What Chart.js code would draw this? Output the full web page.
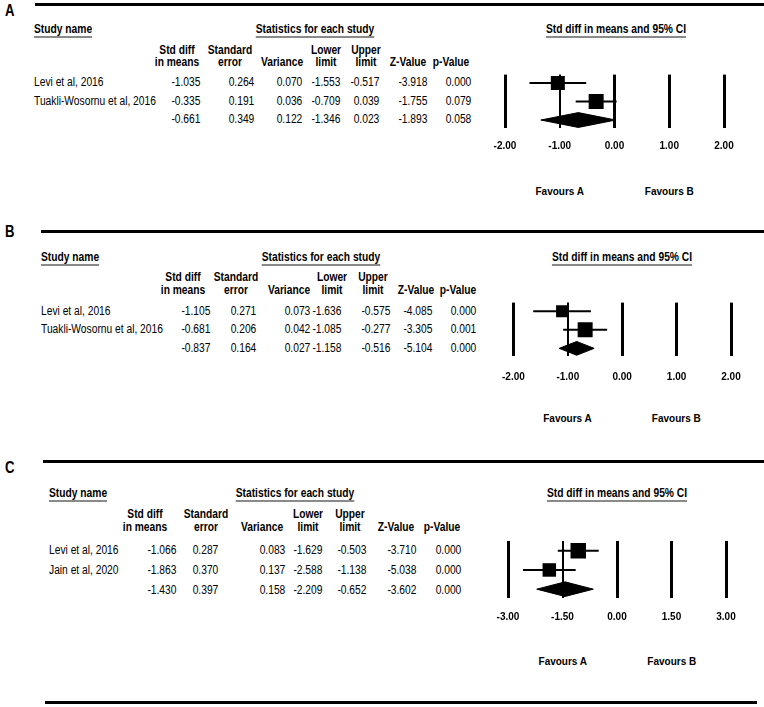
<!DOCTYPE html>
<html>
<head>
<meta charset="utf-8">
<script src="https://cdn.jsdelivr.net/npm/chart.js@4.4.1/dist/chart.umd.min.js"></script>
<style>
  body { margin: 0; background: #fff; }
  #page { position: relative; width: 764px; height: 707px; overflow: hidden; color: #000;
          font-family: "Liberation Sans", Arial, sans-serif; font-size: 12.5px; }
  .t { position: absolute; white-space: pre; line-height: 12px; text-align: center; }
  .b { font-weight: bold; }
  .u { text-decoration: underline; text-decoration-color: #8a8a8a; text-decoration-thickness: 2px; text-underline-offset: 3px; }
  .letter { font-weight: bold; font-size: 16px; }
  .fav { font-weight: bold; font-size: 10px; }
  .rule { position: absolute; height: 3px; background: #000; }
  canvas { position: absolute; }
</style>
</head>
<body>
<div id="page"></div>
<script>
// ---- panel A ----
const studiesA = ['Levi et al, 2016', 'Tuakli-Wosornu et al, 2016', ''];
const smdA   = [-1.035, -0.335, -0.661];
const seA    = [0.264, 0.191, 0.349];
const varA   = [0.070, 0.036, 0.122];
const lowerA = [-1.553, -0.709, -1.346];
const upperA = [-0.517, 0.039, 0.023];
const zA     = [-3.918, -1.755, -1.893];
const pA     = [0.000, 0.079, 0.058];
const ticksA = [-2, -1, 0, 1, 2];

// ---- panel B ----
const studiesB = ['Levi et al, 2016', 'Tuakli-Wosornu et al, 2016', ''];
const smdB   = [-1.105, -0.681, -0.837];
const seB    = [0.271, 0.206, 0.164];
const varB   = [0.073, 0.042, 0.027];
const lowerB = [-1.636, -1.085, -1.158];
const upperB = [-0.575, -0.277, -0.516];
const zB     = [-4.085, -3.305, -5.104];
const pB     = [0.000, 0.001, 0.000];
const ticksB = [-2, -1, 0, 1, 2];

// ---- panel C ----
const studiesC = ['Levi et al, 2016', 'Jain et al, 2020', ''];
const smdC   = [-1.066, -1.863, -1.430];
const seC    = [0.287, 0.370, 0.397];
const varC   = [0.083, 0.137, 0.158];
const lowerC = [-1.629, -2.588, -2.209];
const upperC = [-0.503, -1.138, -0.652];
const zC     = [-3.710, -5.038, -3.602];
const pC     = [0.000, 0.000, 0.000];
const ticksC = [-3, -1.5, 0, 1.5, 3];

const colHead1 = ['Std diff', 'Standard', '', 'Lower', 'Upper', '', ''];
const colHead2 = ['in means', 'error', 'Variance', 'limit', 'limit', 'Z-Value', 'p-Value'];
const favourLabels = ['Favours A', 'Favours B'];

const page = document.getElementById('page');
const NARROW = 0.82; // no narrow face installed, so squeeze the table text

// y is the centre of the first line
function addText(txt, x, y, align, cls, squeeze, lh) {
  const d = document.createElement('div');
  d.className = 't ' + (cls || '');
  d.textContent = txt;
  const lineH = lh || 12;
  d.style.lineHeight = lineH + 'px';
  d.style.top = (y - lineH / 2) + 'px';
  const sc = squeeze ? ' scaleX(' + NARROW + ')' : '';
  if (align === 'left') {
    d.style.left = x + 'px';
    d.style.transformOrigin = 'left center';
    if (sc) d.style.transform = sc;
  } else if (align === 'right') {
    d.style.right = (764 - x) + 'px';
    d.style.transformOrigin = 'right center';
    if (sc) d.style.transform = sc;
  } else {
    d.style.left = x + 'px';
    d.style.transform = 'translateX(-50%)' + sc;
  }
  page.appendChild(d);
  return d;
}

function addRule(x0, x1, y) {
  const r = document.createElement('div');
  r.className = 'rule';
  r.style.left = x0 + 'px';
  r.style.width = (x1 - x0) + 'px';
  r.style.top = (y - 1.5) + 'px';
  page.appendChild(r);
}

const panels = [
  { letter: 'A', studies: studiesA, smd: smdA, se: seA, vr: varA, lo: lowerA, up: upperA, z: zA, p: pA, ticks: ticksA,
    L: { letterY: 11, ruleX: 35, ruleY: 4.5, nameX: 34, titleY: 29, statsX: 315, ciX: 616, h1: 50, h2: 62,
         rowY: [82, 100.5, 119], colR: [200, 254, 302, 340, 379, 427, 471], headX: [177, 230, 282, 326, 366, 408, 451],
         x0: 505, x1: 724, top: 74, bottom: 128, yMin: -0.45, yMax: 2.43, tickPad: 12, dh: 0.4, boxes: [14, 15], favY: 192 } },
  { letter: 'B', studies: studiesB, smd: smdB, se: seB, vr: varB, lo: lowerB, up: upperB, z: zB, p: pB, ticks: ticksB,
    L: { letterY: 232, ruleX: 41, ruleY: 231.7, nameX: 41, titleY: 257, statsX: 321, ciX: 622, h1: 277, h2: 290,
         rowY: [310.5, 329, 348], colR: [210, 256, 310, 341, 390, 432, 476], headX: [183, 235.5, 289, 332, 372.5, 415.5, 458],
         x0: 511.7, x1: 730.7, top: 302, bottom: 356, yMin: -0.46, yMax: 2.41, tickPad: 15, dh: 0.37, boxes: [12, 15], favY: 419 } },
  { letter: 'C', studies: studiesC, smd: smdC, se: seC, vr: varC, lo: lowerC, up: upperC, z: zC, p: pC, ticks: ticksC,
    L: { letterY: 468, ruleX: 43, ruleY: 461.5, nameX: 49, titleY: 493, statsX: 295, ciX: 617, h1: 514, h2: 527,
         rowY: [550, 570, 590], colR: [176, 218, 285, 322, 366, 416, 461], headX: [145, 206, 262, 307.5, 350, 396, 441.5],
         x0: 508.3, x1: 726.7, top: 540, bottom: 598, yMin: -0.51, yMax: 2.46, tickPad: 13, dh: 0.38, boxes: [15.5, 13.5], favY: 662 } }
];

function drawPanel(pn) {
  const L = pn.L;
  // letter + top rule
  addText(pn.letter, 5, L.letterY, 'left', 'letter', true, 18);
  addRule(L.ruleX, 764, L.ruleY);
  // group headers
  addText('Study name', L.nameX, L.titleY, 'left', 'b u', true);
  addText('Statistics for each study', L.statsX, L.titleY, 'center', 'b u', true);
  addText('Std diff in means and 95% CI', L.ciX, L.titleY, 'center', 'b u', true);
  // column headers (two-line blocks)
  for (let c = 0; c < 7; c++) {
    if (colHead1[c]) addText(colHead1[c] + '\n' + colHead2[c], L.headX[c], L.h1, 'center', 'b', true, L.h2 - L.h1);
    else addText(colHead2[c], L.headX[c], L.h2, 'center', 'b', true);
  }
  // rows
  const cols = [pn.smd, pn.se, pn.vr, pn.lo, pn.up, pn.z, pn.p];
  for (let r = 0; r < 3; r++) {
    if (pn.studies[r]) addText(pn.studies[r], L.nameX, L.rowY[r], 'left', '', true);
    for (let c = 0; c < 7; c++) addText(cols[c][r].toFixed(3), L.colR[c], L.rowY[r], 'right', '', true);
  }

  // forest plot
  const padL = 25, padT = 10, padB = 4;
  const axisH = 12 + 2 * L.tickPad;
  const cv = document.createElement('canvas');
  const w = Math.round(L.x1 - L.x0 + 2 * padL);
  const h = Math.round(padT + (L.bottom - L.top) + axisH + padB);
  cv.width = w; cv.height = h;
  cv.style.left = (L.x0 - padL) + 'px';
  cv.style.top = (L.top - padT) + 'px';
  cv.style.width = w + 'px'; cv.style.height = h + 'px';
  page.appendChild(cv);

  const k = 2, dh = L.dh;
  const datasets = [
    { label: 'studies', data: [0, 1].map(i => ({ x: pn.smd[i], y: i })), showLine: false, order: 0,
      pointStyle: 'rect', pointRadius: L.boxes.map(s => s / Math.SQRT2), pointHoverRadius: L.boxes.map(s => s / Math.SQRT2),
      pointBackgroundColor: '#000', pointBorderWidth: 0 },
    { label: 'ci0', data: [{ x: pn.lo[0], y: 0 }, { x: pn.up[0], y: 0 }], borderColor: '#000', borderWidth: 2, pointRadius: 0, order: 1 },
    { label: 'ci1', data: [{ x: pn.lo[1], y: 1 }, { x: pn.up[1], y: 1 }], borderColor: '#000', borderWidth: 2, pointRadius: 0, order: 1 },
    { label: 'pooled', data: [
        { x: pn.lo[k], y: k }, { x: pn.smd[k], y: k - dh }, { x: pn.up[k], y: k }, { x: pn.smd[k], y: k + dh }, { x: pn.lo[k], y: k }
      ], fill: 'shape', backgroundColor: '#000', borderColor: '#000', borderWidth: 1, pointRadius: 0, order: 1 }
  ];

  const chart = new Chart(cv.getContext('2d'), {
    type: 'line',
    data: { datasets: datasets },
    options: {
      responsive: false,
      animation: false,
      events: [],
      layout: { padding: { left: padL, right: padL, top: padT, bottom: padB } },
      plugins: { legend: { display: false }, tooltip: { enabled: false } },
      scales: {
        x: {
          type: 'linear', min: pn.ticks[0], max: pn.ticks[pn.ticks.length - 1],
          afterBuildTicks: s => { s.ticks = pn.ticks.map(v => ({ value: v })); },
          border: { display: false },
          grid: { color: '#000', drawTicks: false, lineWidth: c => (c.index === 1 ? 2 : 3) },
          ticks: { color: '#000', padding: L.tickPad, autoSkip: false, maxRotation: 0,
                   font: { family: '"Liberation Sans", Arial, sans-serif', weight: 'bold', size: 10 },
                   callback: v => Number(v).toFixed(2) }
        },
        y: { type: 'linear', min: L.yMin, max: L.yMax, reverse: true, display: false }
      }
    }
  });

  // favours labels under the 2nd and 4th ticks
  const sx = chart.scales.x;
  const left = L.x0 - padL;
  addText(favourLabels[0], left + sx.getPixelForValue(pn.ticks[1]), L.favY, 'center', 'fav');
  addText(favourLabels[1], left + sx.getPixelForValue(pn.ticks[3]), L.favY, 'center', 'fav');
}

panels.forEach(drawPanel);
addRule(45, 757, 702.5);
</script>
</body>
</html>
